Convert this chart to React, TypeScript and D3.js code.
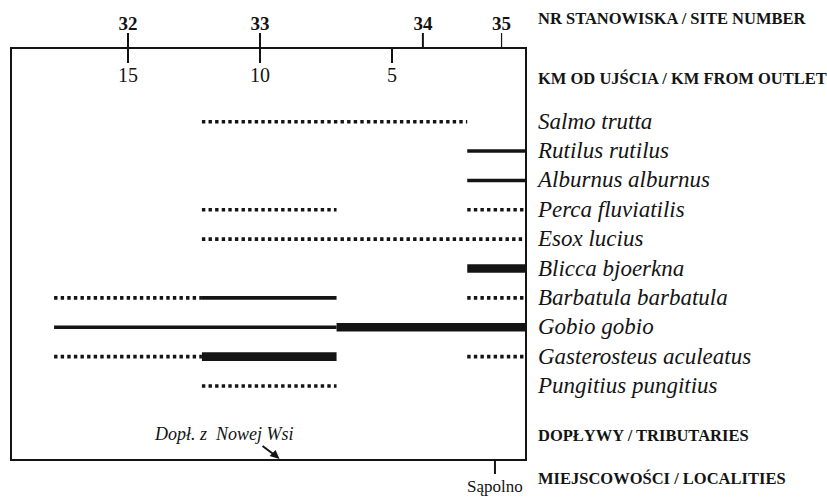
import React from "react";
import * as d3 from "d3";

const W = 827;
const H = 497;

// Data
const species = [
  "Salmo trutta",
  "Rutilus rutilus",
  "Alburnus alburnus",
  "Perca fluviatilis",
  "Esox lucius",
  "Blicca bjoerkna",
  "Barbatula barbatula",
  "Gobio gobio",
  "Gasterosteus aculeatus",
  "Pungitius pungitius",
];

// segments per species: [kmFrom, kmTo, style]
const END = -0.08;
const salmoSeg = [[12.2, 2.15, "dot"]];
const rutilusSeg = [[2.15, END, "thin"]];
const alburnusSeg = [[2.15, END, "thin"]];
const percaSeg = [[12.2, 7.1, "dot"], [2.15, END, "dot"]];
const esoxSeg = [[12.2, END, "dot"]];
const bliccaSeg = [[2.15, END, "thick"]];
const barbatulaSeg = [[17.8, 12.2, "dot"], [12.2, 7.1, "thin"], [2.15, END, "dot"]];
const gobioSeg = [[17.8, 7.1, "thin"], [7.1, END, "thick"]];
const gasterSeg = [[17.8, 12.2, "dot"], [12.2, 7.1, "thick"], [2.15, END, "dot"]];
const pungitiusSeg = [[12.2, 7.1, "dot"]];
const segments = [
  salmoSeg, rutilusSeg, alburnusSeg, percaSeg, esoxSeg,
  bliccaSeg, barbatulaSeg, gobioSeg, gasterSeg, pungitiusSeg,
];

const siteNumbers = ["32", "33", "34", "35"];
const siteKm = [15, 10, 3.83, 0.85];
const kmTicks = [15, 10, 5];
const localityNames = ["Sąpolno"];
const localityKm = [1.1];
const tributaryNames = ["Dopł. z  Nowej Wsi"];
const tributaryKm = [9.6];

const headerLabels = [
  "NR STANOWISKA / SITE NUMBER",
  "KM OD UJŚCIA / KM FROM OUTLET",
  "DOPŁYWY / TRIBUTARIES",
  "MIEJSCOWOŚCI / LOCALITIES",
];

export default function App() {
  const x = d3.scaleLinear().domain([0, 15]).range([524, 128]);
  const y = d3
    .scalePoint<string>()
    .domain(species)
    .range([121.7, 386]);

  const boxL = 11;
  const boxR = 526;
  const boxT = 48;
  const boxB = 460;
  const ink = "#141414";
  const serif = "'Liberation Serif', 'Times New Roman', serif";

  const widthFor = (s: string) => (s === "thick" ? 8.6 : 3.6);

  return (
    <svg
      width={W}
      height={H}
      style={{ position: "absolute", left: 0, top: 0, background: "#fff" }}
      fontFamily={serif}
    >
      <rect x={0} y={0} width={W} height={H} fill="#fff" />
      {/* Box */}
      <rect
        x={boxL}
        y={boxT}
        width={boxR - boxL}
        height={boxB - boxT}
        fill="none"
        stroke={ink}
        strokeWidth={2}
      />

      {/* Site number axis (above box) */}
      {siteNumbers.map((s, i) => (
        <g key={"site" + s}>
          <line
            x1={x(siteKm[i])}
            x2={x(siteKm[i])}
            y1={33}
            y2={boxT}
            stroke={ink}
            strokeWidth={i === 3 ? 1.2 : 2}
          />
          <text
            x={x(siteKm[i])}
            y={30}
            textAnchor="middle"
            fontWeight="bold"
            fontSize={19}
            fill={ink}
          >
            {s}
          </text>
        </g>
      ))}

      {/* Km axis (below top edge) */}
      {kmTicks.map((k) => (
        <g key={"km" + k}>
          <line
            x1={x(k)}
            x2={x(k)}
            y1={boxT}
            y2={63}
            stroke={ink}
            strokeWidth={2}
          />
          <text
            x={x(k)}
            y={82}
            textAnchor="middle"
            fontSize={20}
            fill={ink}
          >
            {k}
          </text>
        </g>
      ))}

      {/* Occurrence segments */}
      {species.map((sp, i) =>
        segments[i].map((seg, j) => {
          const [a, b, st] = seg as [number, number, string];
          return (
            <line
              key={sp + j}
              x1={x(a)}
              x2={x(b)}
              y1={y(sp)}
              y2={y(sp)}
              stroke={ink}
              strokeWidth={widthFor(st)}
              strokeDasharray={st === "dot" ? "3.4 3.2" : undefined}
            />
          );
        })
      )}

      {/* Species labels */}
      {species.map((sp) => (
        <text
          key={"lab" + sp}
          x={538}
          y={(y(sp) as number) + 7}
          fontStyle="italic"
          fontSize={23}
          fill={ink}
        >
          {sp}
        </text>
      ))}

      {/* Header labels */}
      <g fontWeight="bold" fontSize={16.5} fill={ink}>
        <text x={538} y={24}>{headerLabels[0]}</text>
        <text x={538} y={84}>{headerLabels[1]}</text>
        <text x={538} y={441}>{headerLabels[2]}</text>
        <text x={538} y={484}>{headerLabels[3]}</text>
      </g>

      {/* Tributary */}
      {tributaryNames.map((t, i) => (
        <g key={"trib" + i}>
          <text
            x={x(11.35)}
            y={440}
            textAnchor="middle"
            fontStyle="italic"
            fontSize={18}
            fill={ink}
            style={{ whiteSpace: "pre" }}
          >
            {t}
          </text>
          <line
            x1={x(tributaryKm[i]) - 8}
            y1={446}
            x2={x(tributaryKm[i]) + 4}
            y2={455}
            stroke={ink}
            strokeWidth={2}
          />
          <path
            d={`M${x(tributaryKm[i]) + 9},${459} L${x(tributaryKm[i]) - 1},${456} L${x(tributaryKm[i]) + 5},${450} Z`}
            fill={ink}
          />
        </g>
      ))}

      {/* Localities */}
      {localityNames.map((n, i) => (
        <g key={"loc" + n}>
          <line
            x1={x(localityKm[i])}
            x2={x(localityKm[i])}
            y1={boxB}
            y2={474}
            stroke={ink}
            strokeWidth={2}
          />
          <text
            x={x(localityKm[i])}
            y={492}
            textAnchor="middle"
            fontSize={17}
            fill={ink}
          >
            {n}
          </text>
        </g>
      ))}
    </svg>
  );
}
